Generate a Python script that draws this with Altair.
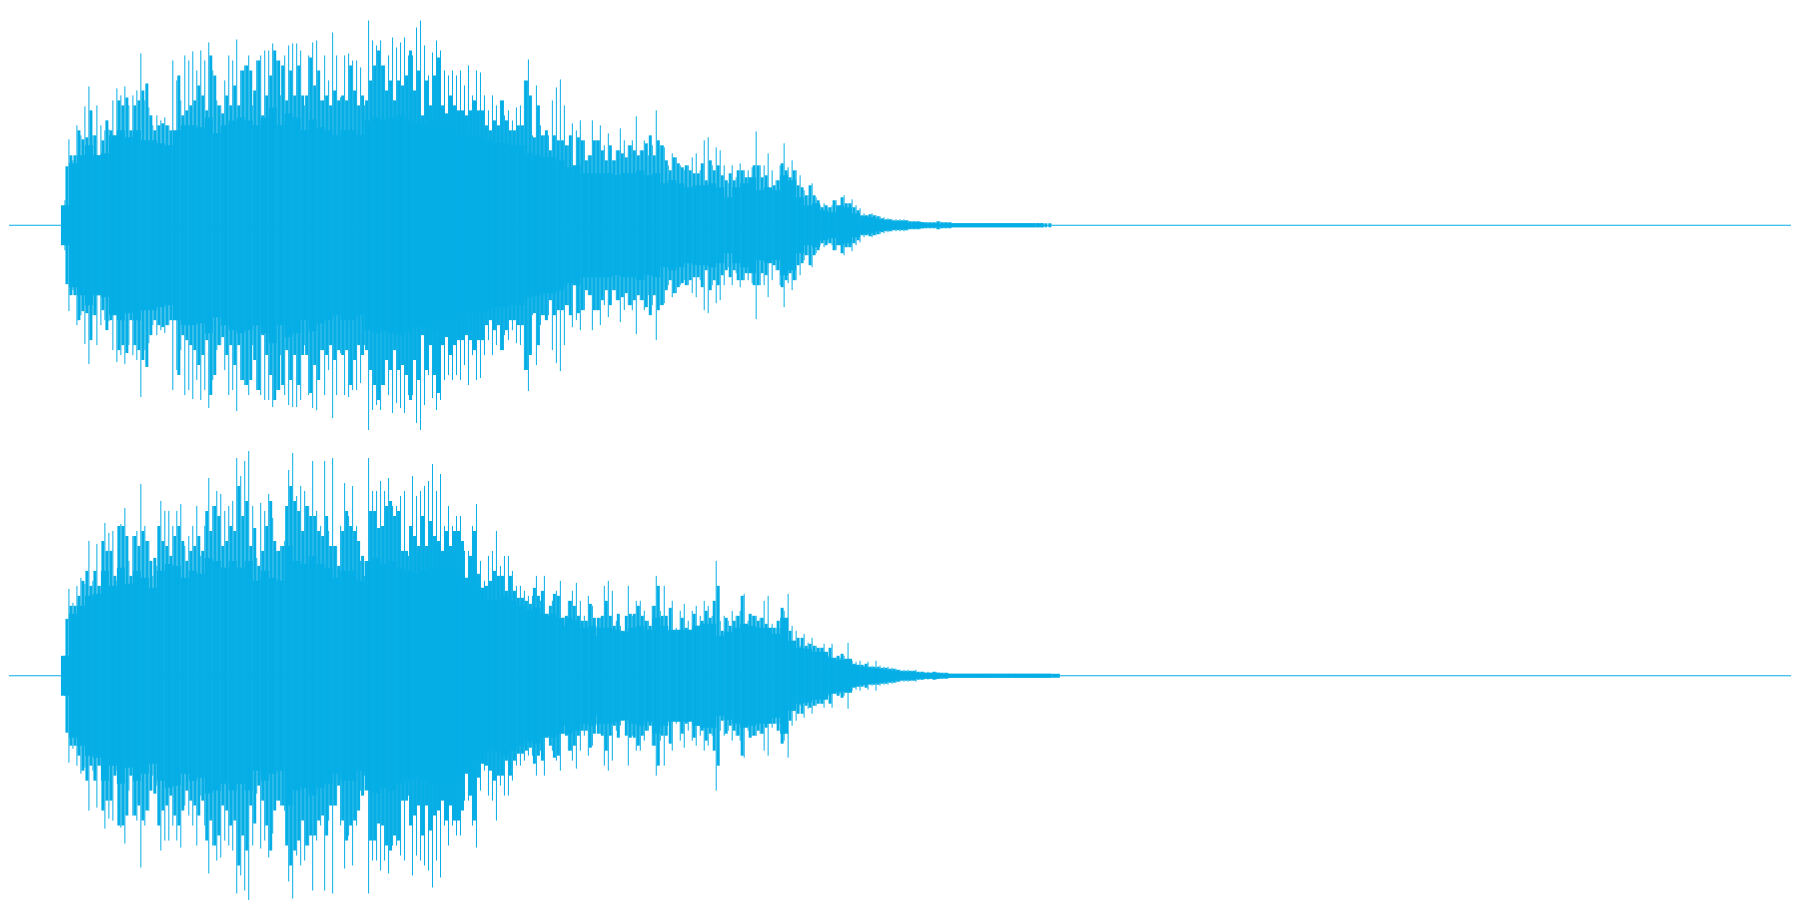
import altair as alt
import pandas as pd

COLOR = "#06AEE6"

# peak amplitude, sampled every 4 time units from t=64
top_peaks = [
25,86,65,100,90,119,139,90,120,100,95,96,125,137,130,139,120,130,135,172,125,118,100,110,105,108,100,165,145,125,170,165,174,155,175,165,183,155,125,120,145,170,165,186,155,160,170,120,165,170,175,175,182,165,130,170,180,182,182,175,120,170,183,185,125,170,145,193,170,128,170,172,165,165,158,120,205,185,180,185,160,170,
188,178,183,188,170,170,198,205,180,150,173,185,175,155,150,155,150,155,140,160,130,155,153,130,115,130,120,125,110,115,105,118,120,145,166,90,140,100,90,90,125,138,146,120,80,102,95,105,85,70,105,85,100,80,92,65,75,97,85,80,85,109,75,85,70,80,115,80,78,60,72,68,60,55,60,68,72,55,85,88,60,78,75,60,42,
60,48,62,55,55,58,94,60,60,72,55,45,60,82,58,65,55,50,35,30,42,28,20,22,18,20,25,18,30,22,26,20,17,12,10,12,10,9,8,7,6,6,6,6,5,4,4,4,3,3,3,3,4,3,3,2,2,2,2,2,2,2,2,2,2,2,2,2,2,2,2,2,2,2,2,2]
bottom_peaks = [
20,87,73,90,98,92,135,95,132,90,153,143,145,95,152,168,115,140,145,192,150,135,100,110,175,165,165,150,165,172,130,140,150,170,120,150,198,170,185,182,165,170,175,218,200,215,225,170,118,173,165,182,158,125,130,135,206,223,180,190,185,170,215,165,150,215,145,218,130,150,193,160,190,150,115,100,218,185,185,195,185,198,
170,170,180,185,120,200,180,185,190,195,212,185,202,150,170,150,160,160,125,125,150,172,115,95,120,125,145,110,120,120,105,90,90,85,80,80,100,75,100,60,75,85,95,50,75,85,93,75,60,80,70,40,58,90,95,85,55,50,45,90,60,75,75,65,55,70,100,65,90,45,75,48,65,72,55,65,70,60,75,70,60,115,55,60,55,
65,60,65,82,55,60,60,58,75,80,52,48,48,65,82,50,45,30,42,33,38,30,28,32,20,32,18,18,20,33,15,14,15,10,14,10,15,10,9,9,8,7,6,6,6,5,6,4,4,4,3,4,3,3,3,2,2,2,2,2,2,2,2,2,2,2,2,2,2,2,2,2,2,2,2,2,2,2,2,2]

# shoulder of the silhouette, sampled every 4 time units from t=66
top_mid = [
59,70,70,95,86,88,115,90,70,85,105,95,88,125,120,128,95,120,125,135,142,110,95,100,102,100,95,88,150,110,115,120,125,140,130,115,170,150,120,112,130,120,140,120,155,160,155,135,165,110,130,150,175,165,160,125,155,130,160,130,130,168,140,155,125,130,120,135,125,130,125,160,135,120,130,125,145,160,175,160,135,145,
125,145,140,150,175,135,155,110,145,120,150,168,120,112,130,120,115,115,110,115,125,115,115,100,95,105,100,125,105,95,95,100,100,145,130,88,120,90,95,75,90,85,85,80,90,55,88,85,65,70,85,85,75,65,80,65,75,72,68,80,75,70,75,82,90,70,85,80,65,55,68,62,58,60,55,52,52,62,45,65,55,60,50,45,52,
45,55,55,48,45,60,60,48,50,35,40,45,62,55,48,55,40,38,30,40,30,25,18,20,18,25,18,28,22,22,18,15,10,10,11,10,9,7,6,6,5,5,5,5,4,4,4,3,3,3,3,4,3,3,3,2,2,2,2,2,2,2,2,2,2,2,2,2,2,2,2,2,2,2,2,2,2,2,2,2]
bottom_mid = [
57,70,70,80,95,105,90,105,90,135,125,125,100,150,150,140,100,140,130,145,135,115,118,150,135,130,120,140,150,135,115,125,130,140,125,165,145,170,160,130,135,150,145,190,160,175,130,148,110,125,150,175,135,125,130,170,190,175,165,145,170,160,160,145,140,160,130,130,110,145,165,150,145,135,120,110,165,165,148,150,170,
175,160,165,125,125,150,140,130,160,130,155,140,135,125,145,130,145,145,135,90,120,145,102,75,90,95,105,100,100,85,100,85,78,78,75,72,88,80,85,60,70,82,80,50,60,75,70,60,55,55,72,58,58,60,75,60,50,62,45,60,62,62,70,60,55,50,70,90,60,60,68,45,45,58,48,45,62,50,55,65,58,75,90,45,58,
50,55,60,80,50,62,60,55,58,52,45,48,55,68,55,45,35,38,38,30,32,30,28,28,18,28,16,20,22,12,13,12,9,11,12,9,9,9,8,8,7,7,6,5,5,5,5,4,4,3,3,4,3,3,3,2,2,2,2,2,2,2,2,2,2,2,2,2,2,2,2,2,2,2,2,2,2,2,2,2,2]

# solid body amplitude, sampled every 8 time units from t=64
top_body = [
20,62,70,80,70,72,90,95,88,95,85,85,82,80,95,100,100,98,108,92,100,105,108,105,100,108,118,100,112,108,95,106,98,95,90,95,95,90,105,108,106,
108,110,106,102,102,106,95,95,90,90,88,88,85,82,82,80,80,72,70,68,68,65,58,60,52,52,52,52,50,52,52,55,50,52,42,45,42,38,40,40,42,38,28,
38,42,48,35,38,35,50,45,28,20,22,15,13,20,18,12,9,8,6,5,4,4,3,3,2,2,2,2,2,2,2,2,2,2,2,2,2,2,2]
bottom_body = [
20,62,70,80,82,105,90,108,92,105,98,88,105,112,110,98,105,102,118,115,108,115,108,115,95,105,98,95,130,115,112,120,112,108,98,105,105,95,115,118,112,
115,108,105,102,105,108,108,105,105,98,105,88,75,76,80,75,70,66,68,62,62,58,58,55,48,50,48,48,46,44,48,50,46,58,50,46,46,46,50,52,52,40,44,
48,52,50,48,48,42,58,35,28,27,24,24,18,16,17,11,9,8,7,6,5,4,4,3,3,3,2,2,2,2,2,2,2,2,2,2,2,2,2,2,2]

T0 = 64
MID_T0 = 66
PEAK_STEP = 4
BODY_STEP = 8
T_MIN, T_MAX = 8, 1792


def series(values, step, start=T0):
    return pd.DataFrame({"t": [start + i * step for i in range(len(values))],
                         "a": values, "b": [-v for v in values]})


def channel(peaks, mid, body, ymax, ymin, height):
    x = alt.X("t:Q", scale=alt.Scale(domain=[T_MIN, T_MAX], nice=False, zero=False), axis=None)
    y = alt.Y("a:Q", scale=alt.Scale(domain=[ymin, ymax], nice=False, zero=False), axis=None)
    centre = alt.Chart(pd.DataFrame({"t": [T_MIN], "t2": [T_MAX], "a": [0]})).mark_rule(
        color=COLOR, strokeWidth=1).encode(x=x, x2="t2:Q", y=y)
    solid = alt.Chart(series(body, BODY_STEP)).mark_rule(
        color=COLOR, strokeWidth=BODY_STEP).encode(x=x, y=y, y2="b:Q")
    shoulder = alt.Chart(series(mid, PEAK_STEP, MID_T0)).mark_rule(
        color=COLOR, strokeWidth=3).encode(x=x, y=y, y2="b:Q")
    spikes = alt.Chart(series(peaks, PEAK_STEP)).mark_rule(
        color=COLOR, strokeWidth=1).encode(x=x, y=y, y2="b:Q")
    return (centre + solid + shoulder + spikes).properties(width=T_MAX - T_MIN, height=height)


chart = alt.vconcat(
    channel(top_peaks, top_mid, top_body, 217, -225, 442),
    channel(bottom_peaks, bottom_mid, bottom_body, 225, -225, 450),
    spacing=0,
).properties(padding=0, background="white").configure_view(stroke=None)

chart.save("out.html", embed_options={"renderer": "svg", "actions": False})
